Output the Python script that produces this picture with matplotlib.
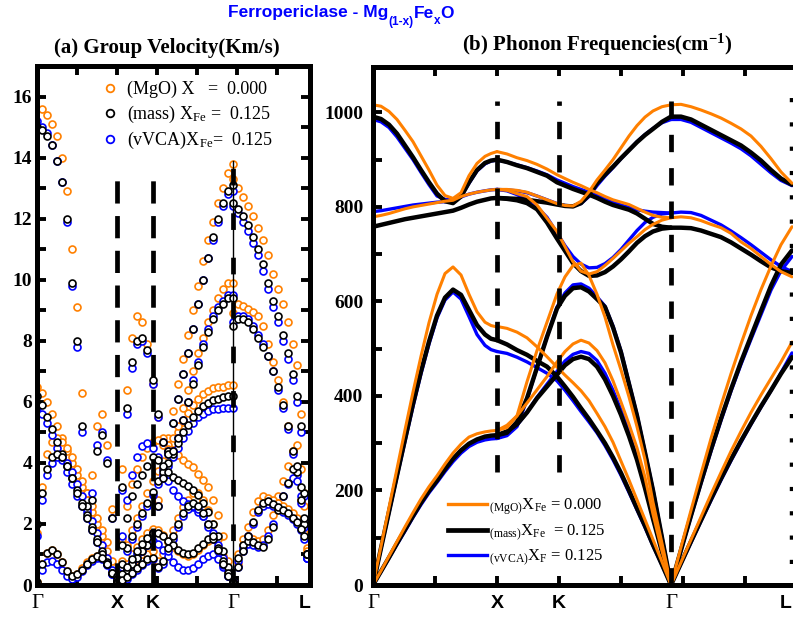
import matplotlib
matplotlib.use("Agg")
import matplotlib.pyplot as plt
from matplotlib.lines import Line2D
from matplotlib.transforms import blended_transform_factory, offset_copy

plt.rcParams.update({
    "font.family": ["Liberation Serif", "DejaVu Serif"],
    "mathtext.fontset": "custom",
    "mathtext.rm": "Liberation Serif",
    "mathtext.it": "Liberation Serif:italic",
    "mathtext.bf": "Liberation Serif:bold",
    "mathtext.sf": "Liberation Sans:bold",
    "lines.scale_dashes": False,
})

ORANGE = "#FF8000"
BLUE = "#0000FF"
BLACK = "#000000"

# ---------------- high-symmetry path ----------------
sym_labels = ["Γ", "X", "K", "Γ", "L"]
vg_sym_pos = [0, 80, 116, 196, 268]      # path coordinate, group-velocity panel
fr_sym_pos = [0, 124, 186, 298, 419]     # path coordinate, frequency panel

# ---------------- (a) group velocity, km/s ----------------
vg_q_gx = [0, 5, 10, 15, 20, 25, 30, 35, 40, 45, 50, 55, 60, 65, 70, 75, 80]
vg_q_xkg = [80, 85, 90, 95, 100, 105, 110, 116, 121, 126, 131, 136, 141, 146,
            151, 156, 161, 166, 171, 176, 181, 186, 191, 196]
vg_q_gl = [196, 201, 206, 211, 216, 221, 226, 231, 236, 241, 246, 251, 256,
           260, 264, 267, 270]

vg_mgo_gx = [
    [15.6, 15.6, 15.4, 15.1, 14.7, 14.0, 12.9, 11.0, 9.1, 6.3, 3.0, 3.6, 5.2, 5.6, 4.6, 2.5, 0.3],
    [6.5, 6.3, 6.0, 5.6, 5.2, 4.8, 4.4, 4.0, 3.6, 3.2, 2.8, 2.4, 2.0, 1.6, 1.1, 0.6, 0.1],
    [1.7, 3.2, 4.3, 4.7, 4.8, 4.7, 4.5, 4.2, 3.8, 3.4, 3.0, 2.6, 2.2, 1.8, 1.4, 0.8, 0.2],
    [0.1, 0.7, 1.05, 1.15, 1.0, 0.75, 0.45, 0.3, 0.35, 0.55, 0.75, 0.9, 0.95, 0.9, 0.7, 0.4, 0.05],
]
vg_mass_gx = [
    [15.0, 14.9, 14.7, 14.4, 13.9, 13.2, 12.0, 9.9, 8.0, 5.2, 2.6, 2.8, 4.4, 4.9, 4.0, 2.2, 0.3],
    [6.2, 5.9, 5.5, 5.1, 4.7, 4.3, 3.9, 3.5, 3.1, 2.7, 2.3, 1.9, 1.5, 1.1, 0.75, 0.4, 0.05],
    [2.0, 3.0, 3.8, 4.2, 4.3, 4.2, 3.9, 3.5, 3.0, 2.6, 2.2, 1.8, 1.4, 1.0, 0.7, 0.4, 0.1],
    [0.1, 0.7, 1.05, 1.15, 1.0, 0.75, 0.45, 0.3, 0.35, 0.5, 0.7, 0.85, 0.95, 0.9, 0.7, 0.4, 0.05],
]
vg_vvca_gx = [
    [15.2, 15.0, 14.8, 14.4, 13.9, 13.2, 11.9, 9.8, 7.8, 5.0, 2.4, 3.0, 4.6, 5.0, 4.1, 2.2, 0.3],
    [5.8, 5.6, 5.3, 4.9, 4.5, 4.1, 3.7, 3.3, 2.9, 2.6, 2.2, 1.8, 1.4, 1.0, 0.7, 0.35, 0.05],
    [1.6, 2.8, 3.6, 4.0, 4.2, 4.2, 4.0, 3.7, 3.3, 2.9, 2.5, 2.1, 1.7, 1.3, 0.9, 0.5, 0.1],
    [0.0, 0.5, 0.75, 0.8, 0.7, 0.5, 0.3, 0.2, 0.25, 0.45, 0.65, 0.8, 0.9, 0.85, 0.65, 0.35, 0.05],
]

vg_mgo_xkg = [
    [0.1, 0.8, 1.3, 1.8, 2.2, 2.6, 3.0, 3.4, 3.75, 4.05, 4.35, 4.65, 5.0, 5.35, 5.65, 5.9, 6.1, 6.25, 6.35, 6.45, 6.5, 6.5, 6.55, 6.55],
    [0.2, 0.4, 0.6, 0.8, 1.0, 1.2, 1.4, 1.8, 2.8, 3.8, 4.8, 5.7, 6.6, 7.4, 8.2, 9.0, 9.8, 10.6, 11.3, 11.9, 12.5, 13.0, 13.5, 13.8],
    [0.4, 3.8, 6.4, 8.1, 8.8, 8.6, 7.9, 6.6, 5.5, 4.8, 4.6, 4.8, 5.2, 5.8, 6.4, 7.0, 7.6, 8.1, 8.6, 9.0, 9.4, 9.7, 9.9, 9.9],
    [0.2, 1.5, 2.6, 3.3, 3.8, 4.2, 4.5, 4.7, 4.75, 4.6, 4.45, 4.35, 4.25, 4.1, 3.95, 3.85, 3.65, 3.45, 3.2, 2.8, 2.3, 1.6, 0.8, 0.1],
    [0.1, 0.4, 0.7, 1.0, 1.25, 1.5, 1.7, 1.85, 1.8, 1.65, 1.45, 1.25, 1.1, 1.0, 0.95, 1.0, 1.15, 1.3, 1.45, 1.5, 1.25, 0.85, 0.45, 0.05],
    [0.05, 0.15, 0.3, 0.45, 0.6, 0.8, 1.0, 1.1, 0.8, 1.0, 1.4, 1.8, 2.2, 2.55, 2.8, 3.0, 3.0, 2.8, 2.45, 2.0, 1.5, 0.95, 0.45, 0.05],
]
vg_mass_xkg = [
    [0.1, 0.7, 1.2, 1.6, 2.0, 2.35, 2.7, 3.05, 3.4, 3.7, 4.0, 4.3, 4.65, 5.0, 5.25, 5.5, 5.7, 5.85, 5.95, 6.05, 6.1, 6.15, 6.2, 6.2],
    [0.1, 0.3, 0.5, 0.7, 0.9, 1.1, 1.3, 1.7, 2.6, 3.5, 4.4, 5.3, 6.1, 6.9, 7.6, 8.4, 9.2, 10.0, 10.7, 11.4, 12.0, 12.5, 12.9, 13.1],
    [0.3, 3.2, 5.8, 7.3, 8.0, 8.1, 7.7, 6.7, 5.6, 4.7, 4.3, 4.4, 4.8, 5.4, 6.0, 6.6, 7.2, 7.8, 8.3, 8.7, 9.0, 9.2, 9.4, 9.4],
    [0.2, 1.3, 2.2, 2.9, 3.3, 3.6, 3.9, 4.2, 4.1, 3.9, 3.7, 3.55, 3.45, 3.35, 3.25, 3.1, 2.95, 2.7, 2.4, 2.0, 1.6, 1.1, 0.6, 0.1],
    [0.1, 0.35, 0.6, 0.85, 1.1, 1.35, 1.55, 1.7, 1.7, 1.6, 1.45, 1.3, 1.15, 1.05, 1.0, 1.05, 1.2, 1.35, 1.5, 1.5, 1.2, 0.8, 0.4, 0.05],
    [0.05, 0.15, 0.25, 0.4, 0.55, 0.7, 0.85, 0.9, 0.6, 0.8, 1.2, 1.6, 2.0, 2.35, 2.6, 2.7, 2.6, 2.35, 2.0, 1.6, 1.15, 0.7, 0.3, 0.05],
]
vg_vvca_xkg = [
    [0.1, 0.6, 1.1, 1.5, 1.9, 2.25, 2.6, 2.95, 3.3, 3.6, 3.9, 4.2, 4.5, 4.8, 5.05, 5.3, 5.5, 5.6, 5.7, 5.75, 5.78, 5.8, 5.8, 5.8],
    [0.1, 0.3, 0.5, 0.7, 0.9, 1.1, 1.3, 1.7, 2.6, 3.5, 4.4, 5.3, 6.1, 6.9, 7.6, 8.4, 9.2, 10.0, 10.7, 11.3, 11.9, 12.4, 12.8, 12.9],
    [0.3, 3.1, 5.6, 7.1, 7.9, 8.0, 7.6, 6.6, 5.5, 4.7, 4.3, 4.4, 4.8, 5.4, 6.0, 6.7, 7.3, 7.9, 8.4, 8.8, 9.1, 9.3, 9.5, 9.5],
    [0.2, 1.6, 2.8, 3.6, 4.2, 4.55, 4.65, 4.5, 4.2, 3.8, 3.4, 3.1, 2.9, 2.75, 2.65, 2.55, 2.4, 2.25, 2.0, 1.7, 1.3, 0.9, 0.5, 0.1],
    [0.1, 0.3, 0.5, 0.75, 1.0, 1.2, 1.35, 1.45, 1.35, 1.15, 0.95, 0.75, 0.6, 0.5, 0.5, 0.55, 0.7, 0.85, 0.95, 1.0, 0.85, 0.6, 0.3, 0.05],
    [0.05, 0.1, 0.2, 0.35, 0.5, 0.65, 0.8, 0.85, 0.55, 0.7, 1.1, 1.5, 1.9, 2.25, 2.5, 2.6, 2.5, 2.25, 1.9, 1.5, 1.1, 0.65, 0.3, 0.05],
]

vg_mgo_gl = [
    [13.3, 13.0, 12.7, 12.4, 12.1, 11.7, 11.3, 10.8, 10.2, 9.7, 9.2, 8.6, 7.9, 7.2, 5.6, 3.0, 1.0],
    [8.9, 9.2, 9.15, 9.05, 8.95, 8.8, 8.5, 7.9, 7.3, 6.7, 6.0, 5.2, 4.4, 3.7, 2.8, 2.0, 1.0],
    [0.1, 1.0, 1.5, 1.6, 1.5, 1.45, 1.5, 1.8, 2.3, 2.9, 3.4, 3.9, 4.4, 4.6, 3.8, 2.6, 1.2],
    [0.05, 0.7, 1.3, 1.9, 2.4, 2.75, 2.9, 2.85, 2.8, 2.7, 2.6, 2.5, 2.35, 2.2, 2.0, 1.7, 1.1],
]
vg_mass_gl = [
    [12.5, 12.3, 12.1, 11.8, 11.4, 11.0, 10.5, 9.9, 9.3, 8.8, 8.2, 7.6, 6.9, 6.2, 5.2, 3.0, 1.0],
    [8.5, 8.7, 8.7, 8.6, 8.4, 8.1, 7.8, 7.5, 7.0, 6.5, 5.9, 5.2, 4.4, 3.7, 2.8, 2.0, 1.0],
    [0.1, 0.9, 1.3, 1.45, 1.4, 1.3, 1.25, 1.5, 1.9, 2.45, 2.9, 3.35, 3.8, 3.9, 3.2, 2.2, 1.0],
    [0.05, 0.6, 1.1, 1.6, 2.05, 2.45, 2.7, 2.75, 2.65, 2.55, 2.45, 2.35, 2.2, 2.05, 1.85, 1.6, 1.0],
]
vg_vvca_gl = [
    [12.4, 12.2, 11.9, 11.6, 11.2, 10.8, 10.3, 9.7, 9.1, 8.6, 8.0, 7.4, 6.7, 6.0, 5.0, 2.9, 0.9],
    [8.6, 8.8, 8.8, 8.7, 8.5, 8.2, 7.9, 7.5, 7.0, 6.4, 5.8, 5.1, 4.3, 3.6, 2.7, 1.9, 0.9],
    [0.1, 0.8, 1.2, 1.35, 1.3, 1.25, 1.3, 1.6, 2.0, 2.5, 2.9, 3.3, 3.5, 3.4, 2.9, 2.0, 0.9],
    [0.05, 0.6, 1.1, 1.6, 2.0, 2.4, 2.6, 2.65, 2.6, 2.5, 2.4, 2.3, 2.15, 2.0, 1.8, 1.5, 0.9],
]

# ---------------- (b) phonon frequencies, cm^-1 ----------------
fr_q_gx = [0, 8, 16, 24, 32, 40, 48, 56, 64, 72, 80, 88, 96, 104, 112, 118, 124]
fr_q_xkg = [124, 134, 144, 154, 164, 174, 184, 192, 200, 208, 216, 224, 232,
            240, 248, 256, 264, 272, 280, 289, 298]
fr_q_gl = [298, 308, 318, 328, 338, 348, 358, 368, 378, 388, 398, 408, 419]

fr_mgo_gx = [
    [1016, 1013, 1002, 985, 962, 938, 908, 878, 846, 824, 818, 830, 866, 892, 907, 913, 917],
    [779, 782, 786, 791, 796, 800, 803, 806, 809, 812, 814, 822, 827, 831, 834, 836, 837],
    [0, 82, 164, 246, 328, 408, 484, 555, 615, 659, 673, 656, 615, 578, 556, 549, 546],
    [0, 30, 61, 92, 123, 153, 182, 208, 231, 256, 279, 298, 313, 320, 324, 326, 327],
]
fr_mass_gx = [
    [991, 986, 974, 955, 930, 905, 878, 852, 828, 812, 808, 822, 852, 878, 893, 898, 900],
    [758, 762, 766, 770, 774, 777, 780, 783, 786, 789, 792, 798, 805, 811, 815, 818, 819],
    [0, 78, 155, 232, 308, 383, 452, 515, 570, 608, 625, 614, 582, 550, 530, 521, 518],
    [0, 29, 58, 88, 117, 146, 174, 199, 221, 245, 267, 285, 299, 308, 314, 316, 317],
]
fr_vvca_gx = [
    [985, 980, 968, 948, 924, 900, 873, 847, 823, 816, 814, 822, 850, 876, 891, 897, 899],
    [790, 792, 795, 798, 801, 804, 806, 808, 810, 811, 812, 821, 827, 831, 834, 836, 837],
    [0, 77, 153, 229, 304, 378, 447, 510, 565, 603, 620, 605, 568, 530, 507, 498, 494],
    [0, 28, 57, 86, 114, 143, 170, 195, 217, 240, 261, 279, 293, 302, 307, 309, 310],
]

fr_mgo_xkg = [
    [917, 912, 904, 898, 890, 880, 868, 860, 852, 845, 837, 830, 822, 815, 810, 805, 797, 789, 782, 778, 777],
    [837, 837, 835, 831, 823, 815, 807, 803, 802, 812, 832, 857, 878, 900, 925, 950, 972, 990, 1003, 1012, 1016],
    [837, 835, 828, 822, 804, 776, 748, 716, 684, 664, 658, 663, 676, 691, 707, 723, 737, 752, 763, 772, 777],
    [547, 543, 535, 523, 504, 483, 461, 444, 428, 411, 390, 363, 335, 302, 262, 222, 180, 138, 96, 49, 0],
    [327, 333, 358, 430, 496, 556, 616, 652, 676, 681, 655, 615, 567, 508, 455, 398, 335, 265, 175, 88, 0],
    [327, 338, 358, 385, 413, 441, 472, 494, 510, 518, 512, 496, 470, 432, 387, 340, 290, 228, 150, 72, 0],
]
fr_mass_xkg = [
    [900, 895, 888, 882, 874, 866, 852, 845, 838, 832, 826, 819, 811, 804, 799, 794, 786, 775, 764, 758, 756],
    [819, 818, 817, 815, 812, 809, 805, 802, 801, 808, 825, 850, 868, 885, 903, 920, 937, 952, 965, 980, 991],
    [819, 817, 814, 808, 795, 767, 733, 707, 681, 664, 654, 655, 662, 674, 689, 706, 724, 738, 748, 754, 756],
    [518, 509, 497, 487, 474, 462, 441, 420, 398, 374, 351, 326, 300, 270, 237, 200, 162, 125, 85, 43, 0],
    [317, 322, 345, 395, 460, 525, 585, 612, 628, 630, 621, 605, 588, 545, 492, 425, 358, 280, 200, 100, 0],
    [317, 325, 340, 365, 395, 420, 445, 465, 478, 483, 478, 462, 435, 400, 360, 315, 265, 205, 140, 70, 0],
]
fr_vvca_xkg = [
    [899, 895, 889, 883, 876, 868, 857, 850, 843, 837, 831, 825, 818, 811, 804, 799, 794, 791, 789, 788, 787],
    [837, 836, 834, 830, 823, 815, 807, 803, 802, 807, 822, 845, 865, 883, 902, 920, 938, 953, 966, 978, 985],
    [837, 834, 826, 815, 800, 778, 745, 718, 695, 679, 671, 672, 680, 693, 710, 730, 750, 767, 778, 785, 787],
    [494, 490, 482, 472, 460, 448, 432, 412, 390, 367, 345, 322, 295, 265, 232, 196, 159, 122, 83, 42, 0],
    [310, 316, 335, 392, 460, 525, 588, 618, 635, 637, 628, 610, 590, 548, 495, 428, 360, 282, 202, 101, 0],
    [310, 320, 338, 365, 397, 425, 452, 474, 488, 494, 490, 475, 448, 412, 370, 323, 270, 208, 142, 71, 0],
]

fr_mgo_gl = [
    [1016, 1017, 1012, 1005, 997, 988, 977, 965, 950, 928, 902, 874, 850],
    [777, 779, 777, 771, 763, 756, 744, 726, 712, 695, 678, 663, 652],
    [0, 80, 158, 235, 310, 380, 447, 510, 570, 625, 675, 720, 758],
    [0, 48, 96, 144, 192, 238, 283, 325, 365, 402, 437, 472, 514],
]
fr_mass_gl = [
    [991, 991, 985, 974, 963, 952, 941, 930, 915, 898, 878, 860, 847],
    [756, 756, 755, 750, 743, 736, 725, 712, 699, 685, 672, 664, 660],
    [0, 74, 147, 218, 287, 352, 414, 472, 526, 580, 633, 678, 708],
    [0, 46, 92, 137, 182, 225, 266, 305, 342, 378, 412, 447, 482],
]
fr_vvca_gl = [
    [985, 985, 979, 968, 957, 946, 935, 923, 908, 890, 872, 856, 845],
    [787, 789, 788, 782, 772, 762, 749, 735, 720, 704, 688, 674, 663],
    [0, 73, 145, 215, 283, 348, 410, 467, 520, 572, 624, 665, 695],
    [0, 45, 90, 135, 179, 222, 263, 302, 340, 376, 411, 449, 491],
]

vg_legend_labels = ["(MgO) X   =  0.000",
                    r"(mass) X$_\mathrm{Fe}$ =  0.125",
                    r"(vVCA)X$_\mathrm{Fe}$=  0.125"]
fr_legend_labels = [r"${}_\mathrm{(MgO)}$X$_\mathrm{Fe}$ = 0.000",
                    r"${}_\mathrm{(mass)}$X$_\mathrm{Fe}$  = 0.125",
                    r"${}_\mathrm{(vVCA)}$X$_\mathrm{F}$ = 0.125"]

# title pieces: (text, is_subscript)
title_parts = [("Ferropericlase - Mg", False), ("(1-x)", True), ("Fe", False),
               ("x", True), ("O", False)]

# ---------------- figure layout (pixel based) ----------------
W, H = 793, 617
fig = plt.figure(figsize=(W / 100, H / 100), dpi=100)


def px_rect(x0, y0, x1, y1):
    return [x0 / W, 1 - y1 / H, (x1 - x0) / W, (y1 - y0) / H]


ax1 = fig.add_axes(px_rect(37, 66, 310, 585))
ax2 = fig.add_axes(px_rect(373, 67, 805, 585))


def style_axes(ax, pad):
    for sp in ax.spines.values():
        sp.set_linewidth(3.6)
        sp.set_zorder(10)
    ax.tick_params(which="both", direction="in", top=True, right=True,
                   width=2.8, length=6.5, labelsize=14, pad=pad)
    ax.tick_params(axis="x", which="major", labelbottom=False)
    for lab in ax.get_yticklabels():
        lab.set_fontweight("bold")


def sym_point_labels(ax, positions, last_shift=0):
    tr = blended_transform_factory(ax.transData, ax.transAxes)
    for i, (pos, lab) in enumerate(zip(positions, sym_labels)):
        t = tr
        if i == len(positions) - 1 and last_shift:
            t = offset_copy(tr, fig=fig, x=last_shift, y=0, units="dots")
        if lab == "Γ":
            ax.text(pos, -0.036, lab, transform=t, ha="center", va="center",
                    fontsize=15, family="Liberation Serif")
        else:
            ax.text(pos, -0.036, lab, transform=t, ha="center", va="center",
                    fontsize=14, family="Liberation Sans", fontweight="bold")


# ---------------- panel (a): group velocity scatter ----------------
vg_sets = [
    (ORANGE, [vg_mgo_gx, vg_mgo_xkg, vg_mgo_gl], 3),
    (BLUE, [vg_vvca_gx, vg_vvca_xkg, vg_vvca_gl], 4),
    (BLACK, [vg_mass_gx, vg_mass_xkg, vg_mass_gl], 5),
]
for color, segments, z in vg_sets:
    for qgrid, branches in zip([vg_q_gx, vg_q_xkg, vg_q_gl], segments):
        for vals in branches:
            ax1.scatter(qgrid, vals, s=25, facecolors="white", edgecolors=color,
                        linewidths=1.2, zorder=z)

ax1.set_xlim(0, 273)
ax1.set_ylim(0, 17)
ax1.set_yticks(range(0, 17, 2))
ax1.set_yticks(range(1, 17, 2), minor=True)
ax1.set_xticks([40, 80, 120, 160, 200, 240])
style_axes(ax1, pad=3.5)
sym_point_labels(ax1, vg_sym_pos)

# dashed guides at X, K and Gamma
for xpos in vg_sym_pos[1:3]:
    ax1.plot([xpos, xpos], [0, 13.4], color=BLACK, lw=3.4, dashes=(16, 9),
             solid_capstyle="butt", zorder=7)
ax1.plot([vg_sym_pos[3]] * 2, [0, 13.9], color=BLACK, lw=1.0, zorder=7)
ax1.plot([vg_sym_pos[3]] * 2, [0, 13.9], color=BLACK, lw=3.4, dashes=(12, 20), zorder=7)

vg_handles = [Line2D([], [], ls="none", marker="o", ms=5.5, mfc="white", mec=c, mew=1.3)
              for c in (ORANGE, BLACK, BLUE)]
ax1.legend(vg_handles, vg_legend_labels, loc="upper left",
           bbox_to_anchor=(0.242, 0.971), frameon=False, fontsize=13,
           handlelength=0.8, handletextpad=0.53, labelspacing=0.3,
           borderpad=0, borderaxespad=0)

# ---------------- panel (b): phonon dispersion ----------------
fr_sets = [
    (BLUE, 2.4, [fr_vvca_gx, fr_vvca_xkg, fr_vvca_gl], 3),
    (BLACK, 3.2, [fr_mass_gx, fr_mass_xkg, fr_mass_gl], 4),
    (ORANGE, 2.2, [fr_mgo_gx, fr_mgo_xkg, fr_mgo_gl], 5),
]
for color, lw, segments, z in fr_sets:
    for qgrid, branches in zip([fr_q_gx, fr_q_xkg, fr_q_gl], segments):
        for vals in branches:
            ax2.plot(qgrid, vals, color=color, lw=lw, solid_joinstyle="round",
                     solid_capstyle="round", zorder=z)

ax2.set_xlim(0, 432)
ax2.set_ylim(0, 1096)
ax2.set_yticks(range(0, 1001, 200))
ax2.set_yticks(range(100, 1001, 200), minor=True)
ax2.set_xticks([62, 124, 186, 248, 310, 372])
style_axes(ax2, pad=7)
sym_point_labels(ax2, fr_sym_pos, last_shift=-6)

for xpos in fr_sym_pos[1:3]:
    ax2.plot([xpos, xpos], [240, 1025], color=BLACK, lw=3.4, dashes=(12.5, 11.5), zorder=7)
ax2.plot([fr_sym_pos[3]] * 2, [0, 1054], color=BLACK, lw=3.4, dashes=(12.5, 11.5), zorder=7)
ax2.plot([fr_sym_pos[4]] * 2, [45, 1060], color=BLACK, lw=3.2, dashes=(3, 14.5), zorder=7)

fr_handles = [Line2D([], [], color=ORANGE, lw=2.4),
              Line2D([], [], color=BLACK, lw=3.4),
              Line2D([], [], color=BLUE, lw=2.4)]
ax2.legend(fr_handles, fr_legend_labels, loc="upper left",
           bbox_to_anchor=(0.174, 0.171), frameon=False, fontsize=12,
           handlelength=2.35, handletextpad=0.1, labelspacing=0.33,
           borderpad=0, borderaxespad=0)

# ---------------- titles ----------------
renderer = fig.canvas.get_renderer()
x_px = 228
for text, is_sub in title_parts:
    size = 8.5 if is_sub else 12.5
    base = 24.5 if is_sub else 17.5
    t = fig.text(x_px / W, 1 - base / H, text, color=BLUE, fontsize=size,
                 fontweight="bold", family="Liberation Sans", ha="left", va="baseline")
    x_px += t.get_window_extent(renderer).width

fig.text(167 / W, 1 - 53.5 / H, "(a) Group Velocity(Km/s)", fontsize=15,
         fontweight="bold", ha="center", va="baseline")
fig.text(597 / W, 1 - 51 / H, r"(b) Phonon Frequencies(cm$^\mathbf{-1}$)", fontsize=15,
         fontweight="bold", ha="center", va="baseline")

fig.savefig("out.png", dpi=100)
